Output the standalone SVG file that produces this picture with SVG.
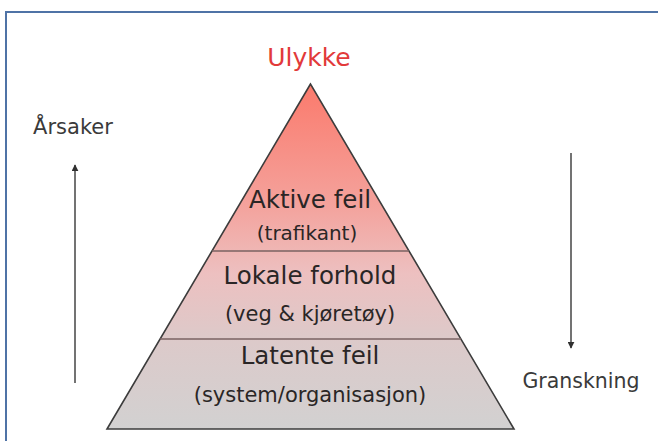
<svg xmlns="http://www.w3.org/2000/svg" width="658" height="441" viewBox="0 0 658 441">
<style>
text{font-family:"DejaVu Sans","Verdana",sans-serif;}
.h{font-size:24.5px;fill:#2a2626;text-anchor:middle;}
.s{font-size:21px;fill:#2a2626;text-anchor:middle;}
.side{font-size:20.5px;fill:#3a3a3a;text-anchor:middle;}
.arr{stroke:#505050;stroke-width:1.6;fill:none;}
.div{stroke:#7a6262;stroke-width:1.5;}
</style>
<defs>
<linearGradient id="g" x1="0" y1="84" x2="0" y2="429" gradientUnits="userSpaceOnUse">
<stop offset="0" stop-color="#fb7a6c"/>
<stop offset="0.35" stop-color="#f4a29c"/>
<stop offset="0.55" stop-color="#edc0c0"/>
<stop offset="0.75" stop-color="#dccaca"/>
<stop offset="1" stop-color="#d2d1d1"/>
</linearGradient>
<marker id="ah" viewBox="0 0 10 10" refX="9" refY="5" markerWidth="7" markerHeight="7" orient="auto" markerUnits="userSpaceOnUse">
<path d="M0,0 L10,5 L0,10 z" fill="#303030"/>
</marker>
</defs>
<rect width="658" height="441" fill="#ffffff"/>
<path d="M6,441 V12 H658" fill="none" stroke="#4f73a6" stroke-width="2"/>
<g id="pyramid">
<polygon points="310.5,84 107,429 514,429" fill="url(#g)" stroke="#3c3c3c" stroke-width="1.6" stroke-linejoin="miter"/>
<line class="div" x1="212" y1="251" x2="409" y2="251"/>
<line class="div" x1="160" y1="339" x2="461" y2="339"/>
</g>
<g id="ulykke"><text x="309" y="66" fill="#e23a3a" text-anchor="middle" style="font-size:25px">Ulykke</text></g>
<g id="aktive"><text class="h" x="310" y="208">Aktive feil</text><text class="s" x="307" y="240" style="font-size:20px">(trafikant)</text></g>
<g id="lokale"><text class="h" x="310" y="284">Lokale forhold</text><text class="s" x="310" y="321">(veg &amp; kjøretøy)</text></g>
<g id="latente"><text class="h" x="310" y="364">Latente feil</text><text class="s" x="310" y="402">(system/organisasjon)</text></g>
<g id="arsaker"><text class="side" x="73" y="134" style="font-size:21px">Årsaker</text></g>
<g id="granskning"><text class="side" x="581" y="388">Granskning</text></g>
<g id="connectors">
<line class="arr" x1="75" y1="383" x2="75" y2="165" marker-end="url(#ah)"/>
<line class="arr" x1="571" y1="153" x2="571" y2="348" marker-end="url(#ah)"/>
</g>
</svg>
